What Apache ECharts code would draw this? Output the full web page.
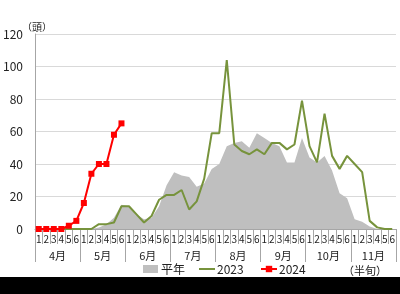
<!DOCTYPE html>
<html><head><meta charset="utf-8">
<script src="https://cdn.jsdelivr.net/npm/echarts@6/dist/echarts.min.js"></script>
<style>html,body{margin:0;padding:0;background:#fff}#c{width:400px;height:294px}</style>
</head><body><div id="c"></div>
<script>
const months = ['4月','5月','6月','7月','8月','9月','10月','11月'];
const halfLabels = ['1','2','3','4','5','6'];
const yTicks = [0,20,40,60,80,100,120];
const normalYear = [0,0,0,0,0,0,0,0,1,3,7,15, 14,9,6,7,14,27, 35,33,32,26,28,37, 40,51,53,54,50,59, 56,53,51,41,41,56, 44,41,45,36,22,19, 6,4.5,1.5,0,0,0];
const y2023 = [0,0,0,0,0,0,0,0,3,3,4,14, 14,9,4,8,18,21, 21,24,12,17,31,59, 59,104,52,48,46,49, 46,53,53,49,52,79, 51,41,71,45,37,45, 40,35,5,1,0,0];
const y2024 = [0,0,0,0,2,5,16,34,40,40,58,65];

const categories = [];
months.forEach(m => halfLabels.forEach(h => categories.push(m + h)));
const catLabel = v => v.slice(-1);

const font = "'Noto Sans CJK JP', sans-serif";
const chart = echarts.init(document.getElementById('c'), null, {renderer:'canvas'});
chart.setOption({
  animation: false,
  textStyle: {fontFamily: font},
  grid: {left: 34, right: 4, top: 34, bottom: 65, containLabel: false},
  xAxis: [{
    type: 'category', data: categories, boundaryGap: true,
    axisLine: {show: true, lineStyle: {color: '#a6a6a6', width: 1}},
    axisTick: {show: true, interval: 0, length: 15, lineStyle: {color: '#a6a6a6'}},
    axisLabel: {interval: 0, formatter: catLabel, fontSize: 10, color: '#222', margin: 5, fontFamily: font}
  }, {
    type: 'category', data: months, boundaryGap: true, position: 'bottom',
    axisLine: {show: false},
    axisTick: {show: true, interval: 0, length: 33, lineStyle: {color: '#a6a6a6'}},
    axisLabel: {interval: 0, fontSize: 11, color: '#222', margin: 21, fontFamily: font}
  }],
  yAxis: {
    type: 'value', min: yTicks[0], max: yTicks[yTicks.length-1], interval: 20,
    axisLine: {show: true, lineStyle: {color: '#a6a6a6'}},
    axisTick: {show: false},
    axisLabel: {fontSize: 12, color: '#222', margin: 12, fontFamily: font},
    splitLine: {lineStyle: {color: '#d9d9d9', width: 1}}
  },
  legend: [
    {data: [{name: '平年', icon: 'rect'}], left: 138, top: 258, itemWidth: 15, itemHeight: 8, itemGap: 4,
     textStyle: {fontSize: 12, color: '#222', fontFamily: font, padding: [0,0,0,-2]}},
    {data: [{name: '2023', icon: 'rect'}], left: 194, top: 258, itemWidth: 16, itemHeight: 2,
     textStyle: {fontSize: 12, color: '#222', fontFamily: font, padding: [0,0,0,-3]}},
    {data: ['2024'], left: 255, top: 258, itemWidth: 16, itemHeight: 8,
     textStyle: {fontSize: 12, color: '#222', fontFamily: font, padding: [0,0,0,-3]}}
  ],
  graphic: [
    {type: 'text', left: 22, top: 22, style: {text: '（頭）', fontSize: 10, fill: '#222', fontFamily: font}},
    {type: 'text', left: 343, top: 265, style: {text: '（半旬）', fontSize: 11, fill: '#222', fontFamily: font}},
    {type: 'rect', left: 0, top: 277, shape: {width: 400, height: 17}, style: {fill: '#000'}, z: 100}
  ],
  series: [
    {name: '平年', type: 'line', data: normalYear, symbol: 'none', color: '#bfbfbf',
     lineStyle: {width: 0}, areaStyle: {color: '#bfbfbf', opacity: 1}, z: 1},
    {name: '2023', type: 'line', data: y2023, symbol: 'none', color: '#77933c',
     lineStyle: {width: 2, color: '#77933c'}, z: 2},
    {name: '2024', type: 'line', data: y2024, symbol: 'rect', symbolSize: 6, color: '#ff0000',
     itemStyle: {color: '#ff0000'}, lineStyle: {width: 2, color: '#ff0000'}, z: 3}
  ]
});
</script></body></html>
